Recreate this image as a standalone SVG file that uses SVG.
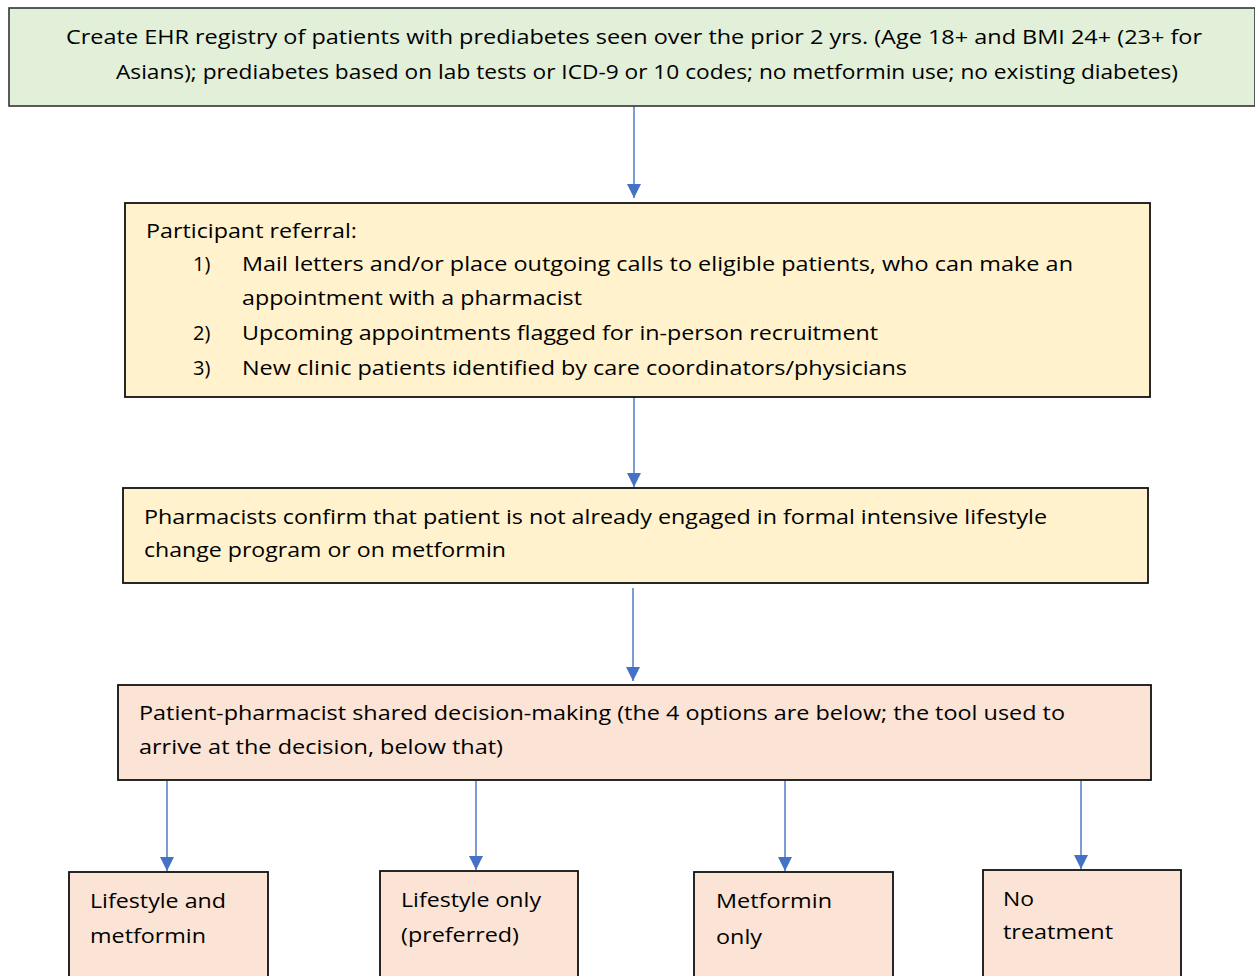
<svg xmlns="http://www.w3.org/2000/svg" width="1255" height="976" viewBox="0 0 1255 976">
<style>
text{font-family:"Open Sans","Noto Sans","Liberation Sans",sans-serif;font-size:20px;fill:#000}
.g{fill:#E2EFD9;stroke:#333;stroke-width:1.6}
.y{fill:#FFF2CC;stroke:#111;stroke-width:1.8}
.p{fill:#FBE4D5;stroke:#111;stroke-width:1.8}
.c{stroke:#4472C4;stroke-width:1.4;fill:none}
</style>
<defs>
<marker id="ah" markerWidth="14" markerHeight="14" refX="14" refY="7" orient="auto" markerUnits="userSpaceOnUse">
<path d="M0,0 L14,7 L0,14 Z" fill="#4472C4"/>
</marker>
</defs>
<rect width="1255" height="976" fill="#fff"/>
<g id="connectors">
<line class="c" x1="634" y1="106" x2="634" y2="198" marker-end="url(#ah)"/>
<line class="c" x1="634" y1="397" x2="634" y2="487" marker-end="url(#ah)"/>
<line class="c" x1="633" y1="588" x2="633" y2="681" marker-end="url(#ah)"/>
<line class="c" x1="167" y1="781" x2="167" y2="871" marker-end="url(#ah)"/>
<line class="c" x1="476" y1="781" x2="476" y2="870" marker-end="url(#ah)"/>
<line class="c" x1="785" y1="781" x2="785" y2="871" marker-end="url(#ah)"/>
<line class="c" x1="1081" y1="781" x2="1081" y2="869" marker-end="url(#ah)"/>
</g>
<g id="registry">
<rect class="g" x="9" y="8" width="1246" height="98"/>
<text x="66" y="44" textLength="1136" lengthAdjust="spacingAndGlyphs">Create EHR registry of patients with prediabetes seen over the prior 2 yrs. (Age 18+ and BMI 24+ (23+ for</text>
<text x="116" y="79" textLength="1062" lengthAdjust="spacingAndGlyphs">Asians); prediabetes based on lab tests or ICD-9 or 10 codes; no metformin use; no existing diabetes)</text>
</g>
<g id="referral">
<rect class="y" x="125" y="203" width="1025" height="194"/>
<text x="146" y="238" textLength="211" lengthAdjust="spacingAndGlyphs">Participant referral:</text>
<text x="193" y="271">1)</text>
<text x="242" y="271" textLength="831" lengthAdjust="spacingAndGlyphs">Mail letters and/or place outgoing calls to eligible patients, who can make an</text>
<text x="242" y="305" textLength="340" lengthAdjust="spacingAndGlyphs">appointment with a pharmacist</text>
<text x="193" y="340">2)</text>
<text x="242" y="340" textLength="636" lengthAdjust="spacingAndGlyphs">Upcoming appointments flagged for in-person recruitment</text>
<text x="193" y="375">3)</text>
<text x="242" y="375" textLength="665" lengthAdjust="spacingAndGlyphs">New clinic patients identified by care coordinators/physicians</text>
</g>
<g id="confirm">
<rect class="y" x="123" y="488" width="1025" height="95"/>
<text x="144" y="524" textLength="903" lengthAdjust="spacingAndGlyphs">Pharmacists confirm that patient is not already engaged in formal intensive lifestyle</text>
<text x="144" y="557" textLength="362" lengthAdjust="spacingAndGlyphs">change program or on metformin</text>
</g>
<g id="decision">
<rect class="p" x="118" y="685" width="1033" height="95"/>
<text x="139" y="720" textLength="926" lengthAdjust="spacingAndGlyphs">Patient-pharmacist shared decision-making (the 4 options are below; the tool used to</text>
<text x="139" y="754" textLength="364" lengthAdjust="spacingAndGlyphs">arrive at the decision, below that)</text>
</g>
<g id="opt-lifestyle-metformin">
<rect class="p" x="69" y="872" width="199" height="120"/>
<text x="90" y="908" textLength="136" lengthAdjust="spacingAndGlyphs">Lifestyle and</text>
<text x="90" y="943" textLength="116" lengthAdjust="spacingAndGlyphs">metformin</text>
</g>
<g id="opt-lifestyle-only">
<rect class="p" x="380" y="871" width="198" height="120"/>
<text x="401" y="907" textLength="140" lengthAdjust="spacingAndGlyphs">Lifestyle only</text>
<text x="401" y="942" textLength="118" lengthAdjust="spacingAndGlyphs">(preferred)</text>
</g>
<g id="opt-metformin-only">
<rect class="p" x="694" y="872" width="199" height="120"/>
<text x="716" y="908" textLength="116" lengthAdjust="spacingAndGlyphs">Metformin</text>
<text x="716" y="944" textLength="46" lengthAdjust="spacingAndGlyphs">only</text>
</g>
<g id="opt-no-treatment">
<rect class="p" x="983" y="870" width="198" height="120"/>
<text x="1003" y="906" textLength="31" lengthAdjust="spacingAndGlyphs">No</text>
<text x="1003" y="939" textLength="110" lengthAdjust="spacingAndGlyphs">treatment</text>
</g>
</svg>
